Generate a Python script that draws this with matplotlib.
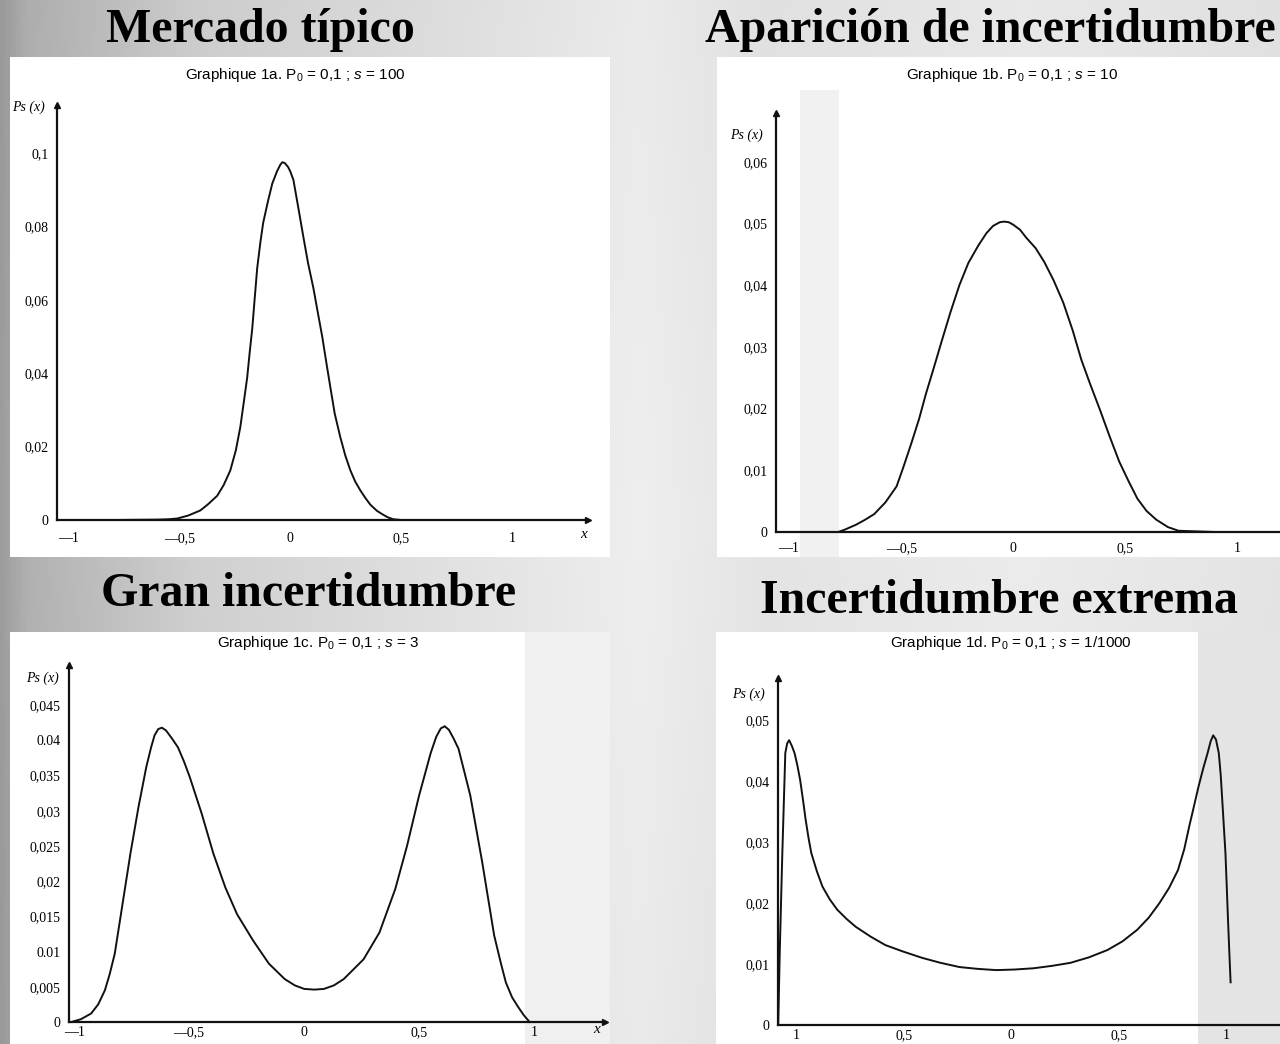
import numpy as np
import matplotlib
matplotlib.use("Agg")
import matplotlib.pyplot as plt
from matplotlib.patches import Rectangle

plt.rcParams['mathtext.fontset'] = 'custom'
plt.rcParams['mathtext.rm'] = 'Liberation Sans'
plt.rcParams['mathtext.it'] = 'Liberation Sans:italic'

x_1a = [-1.0, -0.8, -0.6, -0.55, -0.509, -0.46, -0.405, -0.37, -0.329, -0.30, -0.270, -0.245,
        -0.225, -0.21, -0.194, -0.183, -0.171, -0.16, -0.149, -0.135, -0.122, -0.10, -0.081,
        -0.06, -0.045, -0.036, -0.025, -0.01, 0.0, 0.014, 0.035, 0.059, 0.08, 0.104, 0.124,
        0.144, 0.162, 0.180, 0.20, 0.225, 0.248, 0.270, 0.292, 0.315, 0.338, 0.360, 0.39,
        0.419, 0.44, 0.464, 0.5, 0.7, 1.0, 1.3]
y_1a = [0.0, 0.0, 0.0001, 0.0002, 0.0004, 0.0012, 0.0026, 0.0043, 0.0066, 0.0095, 0.0135, 0.0190,
        0.0253, 0.0318, 0.0388, 0.0455, 0.0523, 0.0605, 0.0686, 0.0755, 0.0810, 0.0870, 0.0917,
        0.0950, 0.0968, 0.0975, 0.0973, 0.0962, 0.0950, 0.0927, 0.0855, 0.0771, 0.0700, 0.0632, 0.0565,
        0.0499, 0.0430, 0.0363, 0.0290, 0.0226, 0.0175, 0.0136, 0.0105, 0.0081, 0.0060, 0.0042, 0.0025,
        0.0014, 0.0007, 0.0002, 0.0, 0.0, 0.0, 0.0]

x_1b = [-1.05, -0.9, -0.78, -0.75, -0.70, -0.66, -0.62, -0.57, -0.52, -0.49, -0.455, -0.42,
        -0.39, -0.355, -0.32, -0.28, -0.24, -0.20, -0.156, -0.12, -0.09, -0.06, -0.04, -0.02,
        0.0, 0.03, 0.058, 0.10, 0.138, 0.18, 0.223, 0.265, 0.304, 0.345, 0.388, 0.43, 0.473,
        0.515, 0.554, 0.595, 0.638, 0.69, 0.737, 0.9, 1.19]
y_1b = [0.0, 0.0, 0.0, 0.0004, 0.0012, 0.0020, 0.0029, 0.0048, 0.0074, 0.0105, 0.0143, 0.0183,
        0.0223, 0.0265, 0.0308, 0.0356, 0.0400, 0.0436, 0.0464, 0.0484, 0.0496, 0.0502, 0.0503, 0.0502,
        0.0498, 0.0490, 0.0477, 0.0460, 0.0438, 0.0408, 0.0372, 0.0327, 0.0279, 0.0238, 0.0197, 0.0155, 0.0114,
        0.0082, 0.0054, 0.0034, 0.0020, 0.0008, 0.0002, 0.0, 0.0]

x_1c = [-1.012, -0.97, -0.926, -0.895, -0.866, -0.845, -0.823, -0.789, -0.755, -0.720, -0.686,
        -0.665, -0.650, -0.634, -0.618, -0.600, -0.575, -0.548, -0.522, -0.497, -0.445, -0.394,
        -0.342, -0.291, -0.222, -0.153, -0.084, -0.04, 0.001, 0.045, 0.087, 0.13, 0.173, 0.259,
        0.328, 0.397, 0.448, 0.500, 0.551, 0.575, 0.595, 0.612, 0.630, 0.650, 0.672, 0.723,
        0.775, 0.827, 0.855, 0.878, 0.905, 0.930, 0.955, 0.981]
y_1c = [0.0, 0.0004, 0.0012, 0.0025, 0.0045, 0.0068, 0.0097, 0.0168, 0.0239, 0.0305, 0.0362,
        0.0390, 0.0407, 0.0416, 0.0418, 0.0414, 0.0403, 0.0390, 0.0370, 0.0348, 0.0296, 0.0239,
        0.0191, 0.0153, 0.0116, 0.0083, 0.0061, 0.0052, 0.0047, 0.0046, 0.0047, 0.0052, 0.0061, 0.0089,
        0.0127, 0.0189, 0.0250, 0.0321, 0.0382, 0.0405, 0.0417, 0.0420, 0.0415, 0.0403, 0.0388, 0.0322,
        0.0227, 0.0123, 0.0085, 0.0056, 0.0035, 0.0022, 0.0010, 0.0]

x_1d = [-1.085, -1.078, -1.066, -1.052, -1.043, -1.034, -1.022, -1.009, -0.996, -0.983, -0.970,
        -0.957, -0.944, -0.931, -0.905, -0.879, -0.845, -0.810, -0.767, -0.724, -0.655, -0.586,
        -0.50, -0.414, -0.33, -0.241, -0.155, -0.069, 0.017, 0.103, 0.19, 0.276, 0.362, 0.448,
        0.517, 0.586, 0.64, 0.690, 0.735, 0.776, 0.805, 0.828, 0.850, 0.871, 0.893, 0.914, 0.928,
        0.940, 0.953, 0.966, 0.975, 0.983, 0.990, 0.997, 1.003, 1.009, 1.015, 1.021]
y_1d = [0.0, 0.0118, 0.0280, 0.0446, 0.0462, 0.0467, 0.0458, 0.0446, 0.0426, 0.0402, 0.0370,
        0.0336, 0.0307, 0.0282, 0.0252, 0.0227, 0.0206, 0.0189, 0.0174, 0.0161, 0.0145, 0.0131,
        0.0120, 0.0110, 0.0102, 0.0095, 0.0092, 0.0090, 0.0091, 0.0093, 0.0097, 0.0102, 0.0111, 0.0123,
        0.0137, 0.0156, 0.0176, 0.0200, 0.0225, 0.0254, 0.0288, 0.0325, 0.0358, 0.0390, 0.0420, 0.0446,
        0.0465, 0.0475, 0.0468, 0.0446, 0.0410, 0.0364, 0.0323, 0.0282, 0.0228, 0.0172, 0.0120, 0.0070]

xt = [-1, -0.5, 0, 0.5, 1]
xt_lab = ['—1', '—0,5', '0', '0,5', '1']
xt_lab_d = ['1', '0,5', '0', '0,5', '1']

yt_a = [0, 0.02, 0.04, 0.06, 0.08, 0.1]
yl_a = ['0', '0,02', '0,04', '0,06', '0,08', '0,1']
yt_b = [0, 0.01, 0.02, 0.03, 0.04, 0.05, 0.06]
yl_b = ['0', '0,01', '0,02', '0,03', '0,04', '0,05', '0,06']
yt_c = [0, 0.005, 0.01, 0.015, 0.02, 0.025, 0.03, 0.035, 0.04, 0.045]
yl_c = ['0', '0,005', '0.01', '0,015', '0,02', '0,025', '0,03', '0,035', '0.04', '0,045']
yt_d = [0, 0.01, 0.02, 0.03, 0.04, 0.05]
yl_d = ['0', '0,01', '0,02', '0,03', '0,04', '0,05']

titulos = ['Mercado típico', 'Aparición de incertidumbre', 'Gran incertidumbre', 'Incertidumbre extrema']
graficas = [r'Graphique 1a. P$_0$ = 0,1 ; $s$ = 100', r'Graphique 1b. P$_0$ = 0,1 ; $s$ = 10',
            r'Graphique 1c. P$_0$ = 0,1 ; $s$ = 3', r'Graphique 1d. P$_0$ = 0,1 ; $s$ = 1/1000']

W, H = 1280, 1044
fig = plt.figure(figsize=(12.8, 10.44), dpi=100)


def caja(x0, y0, x1, y1):
    return [x0 / W, 1 - y1 / H, (x1 - x0) / W, (y1 - y0) / H]


# fondo gris degradado
bg = fig.add_axes([0, 0, 1, 1])
gx = np.linspace(0, 1, 400)
tono = np.interp(gx, [0, 0.02, 0.15, 0.5, 0.6, 0.8, 1], [0.60, 0.68, 0.80, 0.92, 0.88, 0.91, 0.88])
gy = np.linspace(0, 1, 200)[:, None]
img = np.clip(tono[None, :] + 0.03 * (0.5 - np.abs(gy - 0.5)), 0, 1)
bg.imshow(np.dstack([img] * 3), aspect='auto', extent=[0, 1, 0, 1])
bg.axis('off')

serif = 'Liberation Serif'
narrow = ['Liberation Sans Narrow', 'Liberation Sans']

for txt, (cx, cy) in zip(titulos, [(260, 30), (990, 30), (309, 594), (999, 601)]):
    fig.text(cx / W, 1 - cy / H, txt, ha='center', va='center', fontsize=34.5,
             fontweight='bold', family=serif)


def grafica(blanco, marco, xlim, ylim, xs, ys, yt, yl, xl, titulo, tit_xy, ps_xy,
            flecha_x=True, gris=None, x_xy=None, pad_x=9):
    p = fig.add_axes(caja(*blanco))
    p.set_xlim(blanco[0], blanco[2])
    p.set_ylim(blanco[3], blanco[1])
    p.axis('off')
    p.add_patch(Rectangle((blanco[0], blanco[1]), blanco[2] - blanco[0], blanco[3] - blanco[1],
                          color='white', zorder=0))
    if gris:
        p.add_patch(Rectangle((gris[0], gris[1]), gris[2] - gris[0], gris[3] - gris[1],
                              color=gris[4], zorder=0.5, lw=0))
    p.text(tit_xy[0], tit_xy[1], titulo, ha='center', va='center', fontsize=11, family=narrow)
    p.text(ps_xy[0], ps_xy[1], 'Ps (x)', ha='center', va='center', fontsize=10,
           family=serif, style='italic')
    if x_xy:
        p.text(x_xy[0], x_xy[1], 'x', ha='center', va='center', fontsize=11,
               family=serif, style='italic')

    ax = fig.add_axes(caja(*marco))
    ax.patch.set_alpha(0)
    ax.plot(xs, ys, color='#111111', lw=1.4, clip_on=False, solid_joinstyle='round')
    ax.set_xlim(*xlim)
    ax.set_ylim(*ylim)
    for s in ['top', 'right']:
        ax.spines[s].set_visible(False)
    for s in ['left', 'bottom']:
        ax.spines[s].set_linewidth(1.6)
        ax.spines[s].set_color('#111111')
    ax.plot(0, 1, '^', color='#111111', ms=5, transform=ax.transAxes, clip_on=False)
    if flecha_x:
        ax.plot(1, 0, '>', color='#111111', ms=5, transform=ax.transAxes, clip_on=False)
    ax.set_yticks(yt)
    ax.set_yticklabels(yl, family=serif, fontsize=10)
    ax.set_xticks(xt)
    ax.set_xticklabels(xl, family=serif, fontsize=10)
    ax.tick_params(axis='y', length=0, pad=6)
    ax.tick_params(axis='x', length=0, pad=pad_x)
    return ax


grafica((10, 57, 610, 557), (57, 105, 588, 520), (-1.05, 1.34), (0, 0.1131),
        x_1a, y_1a, yt_a, yl_a, xt_lab, graficas[0], (295, 75), (28, 107), x_xy=(584, 535))
grafica((717, 57, 1280, 557), (776, 113, 1280, 532), (-1.058, 1.19), (0, 0.0679),
        x_1b, y_1b, yt_b, yl_b, xt_lab, graficas[1], (1012, 75), (746, 135),
        flecha_x=False, gris=(800, 90, 839, 557, '#f1f1f1'), pad_x=7)
grafica((10, 632, 610, 1044), (69, 665, 605, 1022), (-1.022, 1.309), (0, 0.0507),
        x_1c, y_1c, yt_c, yl_c, xt_lab, graficas[2], (318, 643), (42, 678),
        gris=(525, 632, 610, 1044, '#f0f0f0'), x_xy=(597, 1030), pad_x=3)
grafica((716, 632, 1280, 1044), (778, 678, 1280, 1025), (-1.086, 1.251), (0, 0.0569),
        x_1d, y_1d, yt_d, yl_d, xt_lab_d, graficas[3], (1011, 643), (748, 694),
        flecha_x=False, gris=(1198, 632, 1280, 1044, '#e4e4e4'), pad_x=3)

fig.savefig('out.png', dpi=100)
